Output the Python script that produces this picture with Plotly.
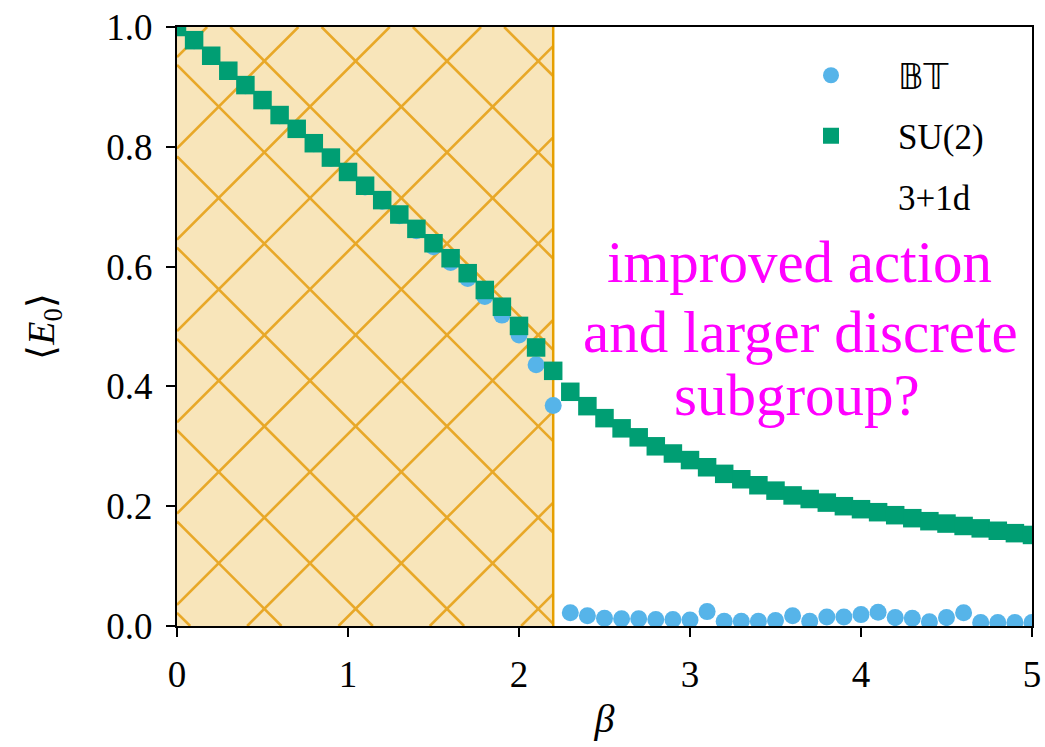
import plotly.graph_objects as go

# ---------------- data ----------------
beta = [0.0, 0.1, 0.2, 0.3, 0.4, 0.5, 0.6, 0.7, 0.8, 0.9,
        1.0, 1.1, 1.2, 1.3, 1.4, 1.5, 1.6, 1.7, 1.8, 1.9,
        2.0, 2.1, 2.2, 2.3, 2.4, 2.5, 2.6, 2.7, 2.8, 2.9,
        3.0, 3.1, 3.2, 3.3, 3.4, 3.5, 3.6, 3.7, 3.8, 3.9,
        4.0, 4.1, 4.2, 4.3, 4.4, 4.5, 4.6, 4.7, 4.8, 4.9, 5.0]

e0_su2 = [1.000, 0.978, 0.952, 0.927, 0.903, 0.878, 0.853, 0.830, 0.806, 0.782,
          0.758, 0.735, 0.711, 0.687, 0.663, 0.639, 0.614, 0.589, 0.561, 0.533,
          0.501, 0.465, 0.426, 0.391, 0.367, 0.347, 0.330, 0.315, 0.300, 0.288,
          0.277, 0.265, 0.254, 0.245, 0.235, 0.226, 0.218, 0.212, 0.206, 0.200,
          0.195, 0.190, 0.185, 0.180, 0.175, 0.171, 0.167, 0.163, 0.159, 0.155, 0.152]

e0_bt = [0.999, 0.977, 0.951, 0.926, 0.902, 0.877, 0.852, 0.829, 0.805, 0.781,
         0.757, 0.733, 0.709, 0.685, 0.660, 0.633, 0.607, 0.580, 0.550, 0.519,
         0.486, 0.436, 0.368, 0.022, 0.017, 0.013, 0.012, 0.012, 0.011, 0.011,
         0.010, 0.024, 0.008, 0.008, 0.008, 0.009, 0.017, 0.008, 0.015, 0.015,
         0.019, 0.023, 0.014, 0.013, 0.007, 0.014, 0.022, 0.006, 0.006, 0.006, 0.006]

x_ticks = [0, 1, 2, 3, 4, 5]
y_ticks = [0.0, 0.2, 0.4, 0.6, 0.8, 1.0]
y_ticktext = ["0.0", "0.2", "0.4", "0.6", "0.8", "1.0"]

shade_range = [0.0, 2.2]
legend_names = ["<span style='font-family:DejaVu Sans'>𝔹𝕋</span>", "SU(2)", "3+1d"]
note_lines = ["improved action", "and larger discrete", "subgroup?"]

# ---------------- styles ----------------
BLUE = "#56B4E9"
GREEN = "#009E73"
ORANGE = "#E69F00"
HATCH = "rgb(232,168,40)"
FONT = "Liberation Serif"

W, H = 1045, 747
ML, MR, MT, MB = 177, 13, 27, 121
PW, PH = W - ML - MR, H - MT - MB
XMAX, YMAX = 5.0, 1.0

fig = go.Figure()

fig.add_trace(go.Scatter(x=beta, y=e0_bt, mode="markers", name=legend_names[0],
                         legendgroup="a",
                         marker=dict(symbol="circle", size=17, color=BLUE, line=dict(width=0))))
fig.add_trace(go.Scatter(x=beta, y=e0_su2, mode="markers", name=legend_names[1],
                         legendgroup="b",
                         marker=dict(symbol="square", size=18.5, color=GREEN, line=dict(width=0))))
fig.add_trace(go.Scatter(x=[None], y=[None], mode="markers", name=legend_names[2],
                         legendgroup="c",
                         marker=dict(size=1, color="rgba(0,0,0,0)")))

# shaded strong-coupling region
shapes = [dict(type="rect", xref="x", yref="y", x0=shade_range[0], x1=shade_range[1],
               y0=0, y1=1, fillcolor="rgba(230,159,0,0.27)",
               line=dict(width=0), layer="below")]

# cross-hatch lines (decoration) computed in pixel space, then converted
sx = PW / XMAX
sy = PH / YMAX
rw = (shade_range[1] - shade_range[0]) * sx
rh = PH
spacing = 91.3
u_off = 30.1
v_off = 53.3


def to_data(px, py):
    return px / sx, YMAX - py / sy


k = -20
while k < 40:
    u = u_off + k * spacing
    a, b = max(0.0, u - rh), min(rw, u)
    if a < b:
        x0, y0 = to_data(a, u - a)
        x1, y1 = to_data(b, u - b)
        shapes.append(dict(type="line", xref="x", yref="y", x0=x0, y0=y0, x1=x1, y1=y1,
                           line=dict(color=HATCH, width=2.6), layer="below"))
    v = v_off + k * spacing
    a, b = max(0.0, v), min(rw, rh + v)
    if a < b:
        x0, y0 = to_data(a, a - v)
        x1, y1 = to_data(b, b - v)
        shapes.append(dict(type="line", xref="x", yref="y", x0=x0, y0=y0, x1=x1, y1=y1,
                           line=dict(color=HATCH, width=2.6), layer="below"))
    k += 1

shapes.append(dict(type="line", xref="x", yref="y", x0=shade_range[1], x1=shade_range[1],
                   y0=0, y1=1, line=dict(color=ORANGE, width=2.5), layer="below"))


def px2paper(px, py):
    return (px - ML) / PW, (H - MB - py) / PH


annotations = []
for txt, (cx, cy) in zip(note_lines, [(799, 262), (800, 332), (797, 395)]):
    ax, ay = px2paper(cx, cy)
    annotations.append(dict(text=txt, x=ax, y=ay, xref="paper", yref="paper",
                            xanchor="center", yanchor="middle", showarrow=False,
                            font=dict(family=FONT, size=59, color="#FF00FF")))

lx, ly = px2paper(764, 46)

fig.update_layout(
    width=W, height=H,
    margin=dict(l=ML, r=MR, t=MT, b=MB, autoexpand=False),
    paper_bgcolor="white", plot_bgcolor="white",
    font=dict(family=FONT, size=36, color="black"),
    shapes=shapes,
    annotations=annotations,
    showlegend=True,
    legend=dict(x=lx, y=ly, xref="paper", yref="paper", xanchor="left", yanchor="top",
                bgcolor="rgba(0,0,0,0)", borderwidth=0, itemwidth=124,
                tracegroupgap=12, font=dict(family=FONT, size=35, color="black")),
    xaxis=dict(range=[0, XMAX], tickvals=x_ticks, showline=True, mirror=True,
               linecolor="black", linewidth=2, ticks="outside", ticklen=9, tickwidth=2,
               tickcolor="black", showgrid=False, zeroline=False,
               tickfont=dict(family=FONT, size=37), ticklabelstandoff=6,
               title=dict(text="<i>β</i>", font=dict(family=FONT, size=40), standoff=10)),
    yaxis=dict(range=[0, YMAX], tickvals=y_ticks, ticktext=y_ticktext, showline=True,
               mirror=True, linecolor="black", linewidth=2, ticks="outside", ticklen=9,
               tickwidth=2, tickcolor="black", showgrid=False, zeroline=False,
               tickfont=dict(family=FONT, size=37), ticklabelstandoff=6,
               title=dict(text="⟨<i>E</i><sub>0</sub>⟩", font=dict(family=FONT, size=38),
                          standoff=40)),
)

fig.write_html("out.html")
